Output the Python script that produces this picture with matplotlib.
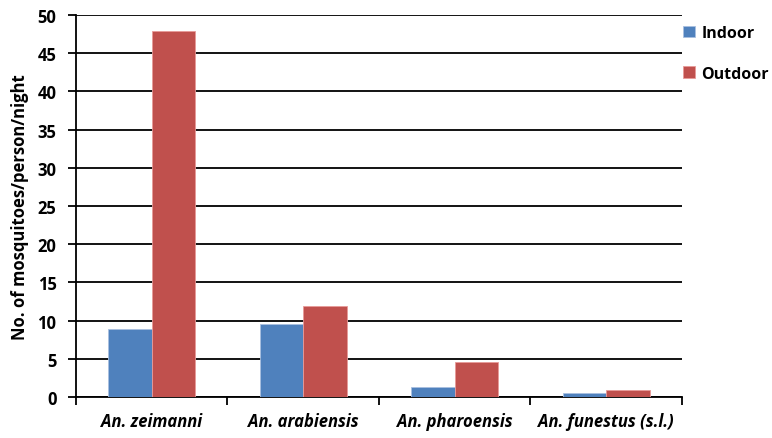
import matplotlib.pyplot as plt
import numpy as np

plt.rcParams['font.family'] = ['Open Sans', 'DejaVu Sans']

categories = ['An. zeimanni', 'An. arabiensis', 'An. pharoensis', 'An. funestus (s.l.)']
indoor = [8.9, 9.5, 1.3, 0.55]
outdoor = [47.9, 11.9, 4.6, 0.95]
series_names = ['Indoor', 'Outdoor']
colors = ['#4F81BD', '#C0504D']

fig = plt.figure(figsize=(7.72, 4.39), dpi=100)
ax = fig.add_axes([0.0984, 0.0934, 0.785, 0.870])

x = np.arange(len(categories))
w = 1 / 3.5
ax.bar(x - w / 2, indoor, w, color=colors[0], edgecolor='#A9C0E0', linewidth=0.6, zorder=3, label=series_names[0])
ax.bar(x + w / 2, outdoor, w, color=colors[1], edgecolor='#E89A98', linewidth=0.6, zorder=3, label=series_names[1])

ax.set_xlim(-0.5, len(categories) - 0.5)
ax.set_ylim(0, 50)
ax.set_yticks(np.arange(0, 51, 5))
ax.yaxis.grid(True, color='black', linewidth=1.3, zorder=0)
ax.set_axisbelow(True)

for s in ['top', 'right']:
    ax.spines[s].set_visible(False)
ax.spines['left'].set_linewidth(1.3)
ax.spines['bottom'].set_linewidth(1.3)

ax.set_xticks(x)
ax.set_xticklabels(categories, fontsize=12, fontweight='bold', style='italic')
ax.tick_params(axis='x', length=0, pad=11)
ax.set_xticks(np.arange(-0.5, len(categories), 1), minor=True)
ax.tick_params(axis='x', which='minor', length=6, width=1.3, direction='out')
ax.tick_params(axis='y', length=6, width=1.3, direction='out', labelsize=12, pad=8)
for t in ax.get_yticklabels():
    t.set_fontweight('bold')

ax.set_ylabel('No. of mosquitoes/person/night', fontsize=12, fontweight='bold', labelpad=6)

ax.legend(loc='upper left', bbox_to_anchor=(683 / 772, 1 - 26 / 439), bbox_transform=fig.transFigure,
          frameon=False, borderpad=0, borderaxespad=0,
          prop={'weight': 'bold', 'size': 11.5}, handlelength=0.75, handleheight=0.75,
          labelspacing=1.55, handletextpad=0.4)

fig.savefig('out.png', dpi=100)
